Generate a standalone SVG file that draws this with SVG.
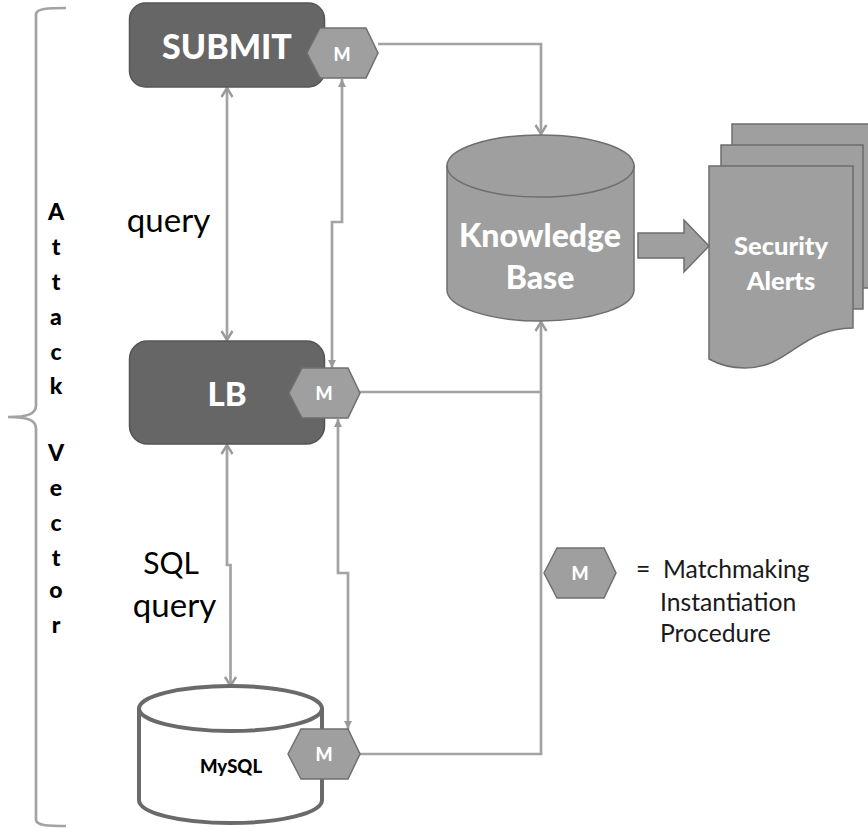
<svg xmlns="http://www.w3.org/2000/svg" width="868" height="829" viewBox="0 0 868 829">
<style>
text{font-family:Lato,"Open Sans",sans-serif;text-anchor:middle}
.box{fill:#666;stroke:#555;stroke-width:1.5}
.hex{fill:#9f9f9f;stroke:#707070;stroke-width:1.5}
.gray{fill:#9f9f9f;stroke:#6e6e6e;stroke-width:1.5}
.w{fill:#fff;font-weight:900}
.m{fill:#fff;font-weight:900;font-size:18px}
.c{fill:none;stroke:#a3a3a3;stroke-width:2.700}
.l{fill:#000;font-size:33px}
.k{fill:#000;font-weight:900;font-size:23px}
.lg{fill:#1a1a1a;font-size:24.700px;text-anchor:start}
</style>
<defs>
<marker id="o" markerUnits="userSpaceOnUse" markerWidth="14" markerHeight="14" refX="12" refY="7" orient="auto-start-reverse"><path d="M3 1.500L12 7L3 12.500" fill="none" stroke="#9a9a9a" stroke-width="2.400"/></marker>
<marker id="s" markerUnits="userSpaceOnUse" markerWidth="10" markerHeight="10" refX="9" refY="5" orient="auto-start-reverse"><path d="M1 1L9 5L1 9Z" fill="#9a9a9a"/></marker>
</defs>
<g id="brace"><path class="c" d="M66 8C50 8 37 8 36 14V405C36 414 28 417 8 417C28 417 36 420 36 429V820C37 826 50 826 66 826"/></g>
<g id="connectors">
<path class="c" d="M227 88V340" marker-start="url(#o)" marker-end="url(#o)"/>
<path class="c" d="M342 79V222H332V368" marker-start="url(#s)" marker-end="url(#s)"/>
<path class="c" d="M227 445V565H230.500V686" marker-start="url(#o)" marker-end="url(#o)"/>
<path class="c" d="M338 419V573H348V729" marker-start="url(#s)" marker-end="url(#s)"/>
<path class="c" d="M378 44H541V134" marker-end="url(#o)"/>
<path class="c" d="M360 392H541"/>
<path class="c" d="M360 754H541V322" marker-end="url(#o)"/>
</g>
<g id="submit"><rect class="box" x="129.500" y="3" width="195" height="84" rx="16"/><text class="w" x="227" y="59" font-size="34">SUBMIT</text></g>
<g id="submit-m"><path class="hex" d="M307 53L320 28H366L378 53L366 78H320Z"/><text class="m" x="342" y="60.500">M</text></g>
<g id="lb"><rect class="box" x="129.500" y="341" width="195" height="103" rx="18"/><text class="w" x="227" y="406" font-size="33">LB</text></g>
<g id="lb-m"><path class="hex" d="M289 393L302 368H348L360 393L348 418H302Z"/><text class="m" x="324" y="400">M</text></g>
<g id="mysql"><path d="M139 708V800C139 813 180 823 230.500 823S322 813 322 800V708" fill="#fff" stroke="#6a6a6a" stroke-width="4"/><ellipse cx="230.500" cy="708.500" rx="91.500" ry="22.500" fill="#fff" stroke="#6a6a6a" stroke-width="4"/><text x="231" y="773" font-size="18.500" font-weight="900" fill="#000">MySQL</text></g>
<g id="mysql-m"><path class="hex" d="M288 754L301 729H348L360 754L348 779H301Z"/><text class="m" x="324" y="760.500">M</text></g>
<g id="kb"><path class="gray" d="M447 166V290C447 307 489 321 540.500 321S634 307 634 290V166Z"/><ellipse class="gray" cx="540.500" cy="166" rx="93.500" ry="31"/><text class="w" x="540" y="247" font-size="32">Knowledge</text><text class="w" x="540" y="289" font-size="32">Base</text></g>
<g id="arrow"><path class="gray" d="M638 233H684V220L709 246L684 272V258H638Z"/></g>
<g id="alerts">
<path class="gray" d="M732 124H880V288H732Z"/>
<path class="gray" d="M721 145H863V309H721Z"/>
<path class="gray" d="M709 166H853V328C800 328 790 368 745 368C730 368 718 364 709 359Z"/>
<text class="w" x="781" y="255" font-size="25.500">Security</text><text class="w" x="781" y="290" font-size="25.500">Alerts</text>
</g>
<g id="legend-m"><path class="hex" d="M544 573L557 548H604L616 573L604 598H557Z"/><text class="m" x="580" y="580">M</text></g>
<g id="labels">
<text class="l" x="168.500" y="232">query</text>
<text class="l" x="171" y="574" font-size="30" style="font-size:30px">SQL</text>
<text class="l" x="174.500" y="617">query</text>
<text class="lg" x="636" y="578">=</text>
<text class="lg" x="663" y="578">Matchmaking</text>
<text class="lg" x="660" y="611">Instantiation</text>
<text class="lg" x="660" y="642">Procedure</text>
</g>
<g id="attack-vector">
<text class="k" x="56" y="220">A</text><text class="k" x="56" y="255">t</text><text class="k" x="56" y="290">t</text><text class="k" x="56" y="325">a</text><text class="k" x="56" y="360">c</text><text class="k" x="56" y="394">k</text>
<text class="k" x="56" y="461">V</text><text class="k" x="56" y="496">e</text><text class="k" x="56" y="531">c</text><text class="k" x="56" y="566">t</text><text class="k" x="56" y="598">o</text><text class="k" x="56" y="633">r</text>
</g>
</svg>
